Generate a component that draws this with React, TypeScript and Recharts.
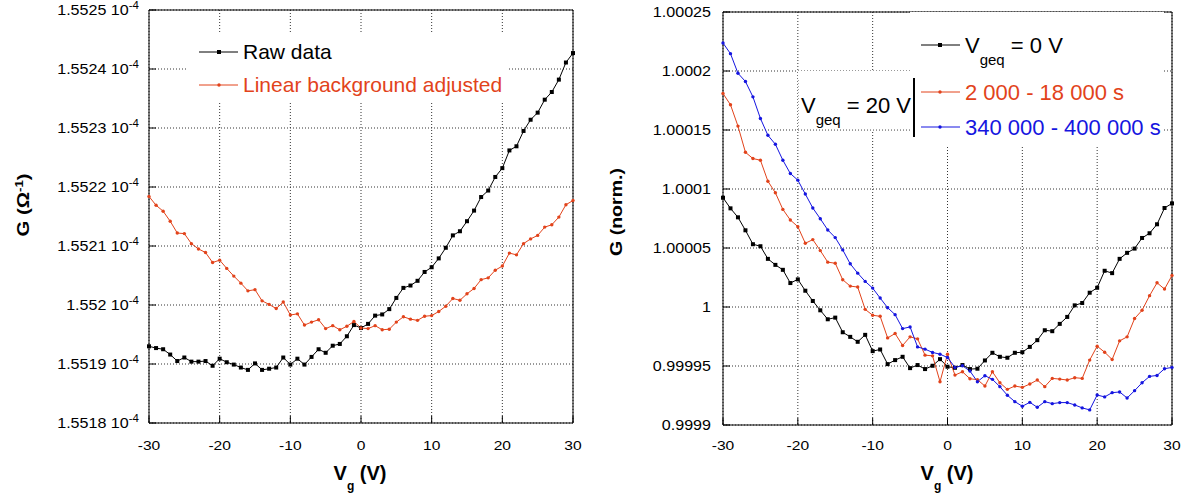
import { LineChart, Line, XAxis, YAxis, CartesianGrid, Legend } from 'recharts'

// gate voltage, V
const vg = [
  -30, -29, -28, -27, -26, -25, -24, -23, -22, -21,
  -20, -19, -18, -17, -16, -15, -14, -13, -12, -11,
  -10, -9, -8, -7, -6, -5, -4, -3, -2, -1,
  0, 1, 2, 3, 4, 5, 6, 7, 8, 9,
  10, 11, 12, 13, 14, 15, 16, 17, 18, 19,
  20, 21, 22, 23, 24, 25, 26, 27, 28, 29, 30,
]

// left panel, G in units of 1e-4 ohm^-1
const rawData = [
  1.55193, 1.551927, 1.551925, 1.551916, 1.551905, 1.551911, 1.551904, 1.551904, 1.551905, 1.551897,
  1.551909, 1.551903, 1.551899, 1.551894, 1.55189, 1.551901, 1.55189, 1.551892, 1.551894, 1.551911,
  1.551899, 1.551909, 1.551899, 1.551912, 1.551925, 1.551919, 1.551931, 1.551934, 1.551947, 1.551966,
  1.551961, 1.551968, 1.551982, 1.551984, 1.551993, 1.552012, 1.552029, 1.552033, 1.552041, 1.552056,
  1.552064, 1.552079, 1.552097, 1.552118, 1.552125, 1.552142, 1.55216, 1.552183, 1.552194, 1.552217,
  1.552232, 1.552262, 1.552269, 1.552295, 1.552314, 1.552326, 1.552348, 1.552361, 1.552382, 1.552411, 1.552427,
]
const bgAdjusted = [
  1.552184, 1.552169, 1.552159, 1.552142, 1.552122, 1.552121, 1.552104, 1.552095, 1.552089, 1.552072,
  1.552076, 1.552062, 1.552049, 1.552037, 1.552024, 1.552026, 1.552007, 1.552001, 1.551994, 1.552005,
  1.551983, 1.551985, 1.551966, 1.551971, 1.551975, 1.55196, 1.551965, 1.551958, 1.551964, 1.551972,
  1.551961, 1.55196, 1.551965, 1.551958, 1.551959, 1.551971, 1.55198, 1.551976, 1.551974, 1.551981,
  1.551982, 1.551989, 1.551998, 1.552011, 1.552008, 1.552019, 1.552028, 1.552043, 1.552046, 1.552059,
  1.552066, 1.552088, 1.552085, 1.552104, 1.552112, 1.552118, 1.552132, 1.552136, 1.552149, 1.55217, 1.552177,
]

// right panel, normalised G
const geq0 = [
  1.0000926, 1.0000836, 1.000076, 1.000065, 1.0000532, 1.0000515, 1.0000408, 1.0000357, 1.0000315, 1.0000203,
  1.0000234, 1.0000138, 1.0000051, 0.9999972, 0.9999896, 0.999991, 0.9999786, 0.9999747, 0.9999705, 0.9999764,
  0.9999626, 0.999964, 0.9999516, 0.999955, 0.9999578, 0.9999482, 0.9999508, 0.9999474, 0.9999502, 0.9999558,
  0.9999494, 0.9999485, 0.9999508, 0.9999474, 0.9999477, 0.9999547, 0.9999612, 0.9999578, 0.999957, 0.9999612,
  0.9999617, 0.9999662, 0.9999719, 0.9999803, 0.9999795, 0.9999857, 0.9999916, 1.0000014, 1.0000034, 1.0000121,
  1.0000163, 1.0000307, 1.0000287, 1.0000408, 1.0000459, 1.0000495, 1.0000585, 1.0000625, 1.0000701, 1.0000839, 1.0000878,
]
const geq20Early = [
  1.0001809, 1.0001714, 1.0001533, 1.0001311, 1.0001258, 1.0001244, 1.0001066, 1.0000968, 1.0000827, 1.0000737,
  1.0000681, 1.000054, 1.0000571, 1.0000478, 1.000038, 1.0000371, 1.0000231, 1.0000177, 1.0000169, 0.999998,
  0.999993, 0.9999921, 0.9999738, 0.9999775, 0.9999674, 0.9999747, 0.999973, 0.9999592, 0.9999586, 0.9999367,
  0.99996, 0.9999423, 0.9999451, 0.9999392, 0.9999384, 0.999933, 0.9999451, 0.9999358, 0.9999302, 0.999933,
  0.9999319, 0.9999347, 0.9999381, 0.9999325, 0.9999395, 0.9999389, 0.9999381, 0.9999401, 0.9999395, 0.999955,
  0.9999668, 0.9999617, 0.9999555, 0.9999713, 0.9999747, 0.9999902, 0.9999972, 1.0000096, 1.0000205, 1.0000152, 1.0000267,
]
const geq20Late = [
  1.0002237, 1.0002147, 1.0001981, 1.0001911, 1.0001781, 1.0001598, 1.0001455, 1.0001379, 1.0001244, 1.0001131,
  1.0001075, 1.0000957, 1.0000839, 1.0000748, 1.0000653, 1.0000588, 1.0000484, 1.0000366, 1.0000287, 1.0000217,
  1.000016, 1.0000076, 0.9999994, 0.9999935, 0.9999817, 0.9999831, 0.9999662, 0.9999643, 0.9999615, 0.99996,
  0.9999572, 0.9999488, 0.9999502, 0.9999457, 0.9999367, 0.9999418, 0.9999387, 0.9999325, 0.9999252, 0.9999198,
  0.9999159, 0.9999192, 0.999915, 0.9999198, 0.9999181, 0.999919, 0.999919, 0.999917, 0.9999145, 0.9999128,
  0.9999254, 0.9999238, 0.9999274, 0.999928, 0.9999229, 0.9999291, 0.9999358, 0.9999412, 0.999942, 0.9999477, 0.9999488,
]

const xTicks = [-30, -20, -10, 0, 10, 20, 30]
const xMinorTicks = [
  -30, -28, -26, -24, -22, -20, -18, -16, -14, -12, -10, -8, -6, -4, -2,
  0, 2, 4, 6, 8, 10, 12, 14, 16, 18, 20, 22, 24, 26, 28, 30,
]
const leftYTicks = [1.5518, 1.5519, 1.552, 1.5521, 1.5522, 1.5523, 1.5524, 1.5525]
const rightYTicks = [0.9999, 0.99995, 1, 1.00005, 1.0001, 1.00015, 1.0002, 1.00025]

const minorOf = (ticks: number[]) =>
  ticks.slice(0, -1).flatMap((t, i) => [0, 1, 2, 3, 4].map((k) => t + ((ticks[i + 1] - t) * k) / 5))

const leftRows = vg.map((v, i) => ({ vg: v, raw: rawData[i], adj: bgAdjusted[i] }))
const rightRows = vg.map((v, i) => ({ vg: v, g0: geq0[i], early: geq20Early[i], late: geq20Late[i] }))

const FONT = '"Liberation Sans", Arial, Helvetica, sans-serif'
const RED = '#e2431b'
const BLUE = '#1515e0'

const squareDot = (color: string) => (p: any) => (
  <rect key={`s${p.index}`} x={p.cx - 2} y={p.cy - 2} width={4} height={4} fill={color} />
)
const roundDot = (color: string) => (p: any) => (
  <circle key={`c${p.index}`} cx={p.cx} cy={p.cy} r={1.7} fill={color} />
)

function XTick({ x, payload }: any) {
  return (
    <text transform={`translate(${x},450) scale(1.2,1)`} textAnchor="middle" fontSize={13} fill="#000">
      {payload.value}
    </text>
  )
}

function LeftYTick({ y, payload }: any) {
  return (
    <text transform={`translate(139,${y + 5}) scale(1.15,1)`} textAnchor="end" fontSize={14} fill="#000">
      {`${payload.value} 10`}
      <tspan dy={-6} fontSize={10}>-4</tspan>
    </text>
  )
}

function RightYTick({ y, payload }: any) {
  return (
    <text transform={`translate(121,${y + 5}) scale(1.15,1)`} textAnchor="end" fontSize={14} fill="#000">
      {payload.value}
    </text>
  )
}

const xTitle = (cx: number) => () => (
  <text x={cx} y={480} textAnchor="middle" fontSize={20} fontWeight="bold" fill="#000">
    V<tspan dy={10} fontSize={12}>g</tspan>
    <tspan dy={-10} fontSize={20}> (V)</tspan>
  </text>
)

const leftYTitle = () => (
  <text transform="translate(29,205) rotate(-90) scale(1.2,1)" textAnchor="middle" fontSize={17} fontWeight="bold" fill="#000">
    G (Ω<tspan dy={-6} fontSize={11}>-1</tspan>
    <tspan dy={6} fontSize={17}>)</tspan>
  </text>
)

const rightYTitle = () => (
  <text transform="translate(32,212) rotate(-90) scale(1.15,1)" textAnchor="middle" fontSize={17} fontWeight="bold" fill="#000">
    G (norm.)
  </text>
)

// inward ticks on all four sides, majors + minors (axes need 1px of room or they are not drawn)
function frame(yDomain: [number, number], yTicks: number[], YTick: any, xLabel: any, yLabel: any) {
  const yMinor = minorOf(yTicks)
  const common = { type: 'number' as const, interval: 0 as const, tickMargin: 0 }
  const line = { stroke: '#000' }
  return [
    <XAxis key="xb" dataKey="vg" {...common} domain={[-30, 30]} ticks={xTicks} height={1} tickSize={-7}
      axisLine={line} tickLine={line} tick={XTick} label={xLabel} />,
    <XAxis key="xbm" xAxisId="xbm" dataKey="vg" {...common} domain={[-30, 30]} ticks={xMinorTicks} height={1}
      tickSize={-5} axisLine={false} tickLine={line} tick={false} />,
    <XAxis key="xt" xAxisId="xt" orientation="top" dataKey="vg" {...common} domain={[-30, 30]} ticks={xTicks}
      height={1} tickSize={-7} axisLine={line} tickLine={line} tick={false} />,
    <XAxis key="xtm" xAxisId="xtm" orientation="top" dataKey="vg" {...common} domain={[-30, 30]} ticks={xMinorTicks}
      height={1} tickSize={-5} axisLine={false} tickLine={line} tick={false} />,
    <YAxis key="yl" {...common} domain={yDomain} ticks={yTicks} width={1} tickSize={-7}
      axisLine={line} tickLine={line} tick={YTick} label={yLabel} />,
    <YAxis key="ylm" yAxisId="ylm" {...common} domain={yDomain} ticks={yMinor} width={1} tickSize={-5}
      axisLine={false} tickLine={line} tick={false} />,
    <YAxis key="yr" yAxisId="yr" orientation="right" {...common} domain={yDomain} ticks={yTicks} width={1}
      tickSize={-7} axisLine={line} tickLine={line} tick={false} />,
    <YAxis key="yrm" yAxisId="yrm" orientation="right" {...common} domain={yDomain} ticks={yMinor} width={1}
      tickSize={-5} axisLine={false} tickLine={line} tick={false} />,
  ]
}

function LeftLegend() {
  return (
    <svg width={319} height={70} style={{ display: 'block', background: '#fff', fontFamily: FONT }}>
      <line x1={11} x2={50} y1={19} y2={19} stroke="#000" />
      <rect x={29} y={17} width={4} height={4} fill="#000" />
      <text x={55} y={26} fontSize={21} fill="#000">Raw data</text>
      <line x1={11} x2={50} y1={52} y2={52} stroke={RED} />
      <circle cx={31} cy={52} r={1.7} fill={RED} />
      <text x={55} y={59} fontSize={21} fill={RED}>Linear background adjusted</text>
    </svg>
  )
}

function RightLegend() {
  return (
    <svg width={367} height={135} style={{ display: 'block', fontFamily: FONT }}>
      <rect x={113} y={0} width={254} height={135} fill="#fff" />
      <rect x={1} y={59} width={112} height={59} fill="#fff" />
      <line x1={1.5} x2={1.5} y1={68} y2={117.5} stroke="#aaa" strokeDasharray="1 2" />
      <line x1={1} x2={113} y1={117.5} y2={117.5} stroke="#aaa" strokeDasharray="1 2" />

      <line x1={124} x2={163} y1={33} y2={33} stroke="#000" />
      <rect x={141} y={31} width={4} height={4} fill="#000" />
      <text x={168} y={41} fontSize={22} fill="#000">
        V<tspan dy={12} fontSize={15}>geq</tspan>
        <tspan dy={-12} fontSize={22}> = 0 V</tspan>
      </text>

      <line x1={124} x2={163} y1={80} y2={80} stroke={RED} />
      <circle cx={143} cy={80} r={1.7} fill={RED} />
      <text x={168} y={88} fontSize={22} fill={RED}>2 000 - 18 000 s</text>

      <line x1={124} x2={163} y1={115} y2={115} stroke={BLUE} />
      <circle cx={143} cy={115} r={1.7} fill={BLUE} />
      <text x={168} y={123} fontSize={22} fill={BLUE}>340 000 - 400 000 s</text>

      <line x1={117} x2={117} y1={66} y2={125} stroke="#000" strokeWidth={2} />
      <text x={4} y={101} fontSize={22} fill="#000">
        V<tspan dy={12} fontSize={15}>geq</tspan>
        <tspan dy={-12} fontSize={22}> = 20 V</tspan>
      </text>
    </svg>
  )
}

const legendBase = { layout: 'vertical' as const, align: 'center' as const, verticalAlign: 'middle' as const }

export default function App() {
  return (
    <div style={{ position: 'absolute', left: 0, top: 0, width: 1185, height: 501, background: '#fff', fontFamily: FONT }}>
      <div style={{ position: 'absolute', left: 0, top: 0 }}>
        <LineChart width={590} height={501} data={leftRows} margin={{ top: 8, right: 15, bottom: 76, left: 147 }}>
          <CartesianGrid stroke="#333" strokeDasharray="1 2" />
          {frame([1.5518, 1.5525], leftYTicks, LeftYTick, xTitle(360), leftYTitle)}
          <Line dataKey="raw" stroke="#000" strokeWidth={1} dot={squareDot('#000')} activeDot={false} isAnimationActive={false} />
          <Line dataKey="adj" stroke={RED} strokeWidth={1} dot={roundDot(RED)} activeDot={false} isAnimationActive={false} />
          <Legend {...legendBase} content={<LeftLegend />}
            wrapperStyle={{ left: 188, top: 33, width: 319, height: 70, margin: 0, padding: 0 }} />
        </LineChart>
      </div>
      <div style={{ position: 'absolute', left: 590, top: 0 }}>
        <LineChart width={595} height={501} data={rightRows} margin={{ top: 10, right: 11, bottom: 74, left: 131 }}>
          <CartesianGrid stroke="#333" strokeDasharray="1 2" />
          {frame([0.9999, 1.00025], rightYTicks, RightYTick, xTitle(357), rightYTitle)}
          <Line dataKey="g0" stroke="#000" strokeWidth={1} dot={squareDot('#000')} activeDot={false} isAnimationActive={false} />
          <Line dataKey="early" stroke={RED} strokeWidth={1} dot={roundDot(RED)} activeDot={false} isAnimationActive={false} />
          <Line dataKey="late" stroke={BLUE} strokeWidth={1} dot={roundDot(BLUE)} activeDot={false} isAnimationActive={false} />
          <Legend {...legendBase} content={<RightLegend />}
            wrapperStyle={{ left: 207, top: 12, width: 367, height: 135, margin: 0, padding: 0 }} />
        </LineChart>
      </div>
    </div>
  )
}
